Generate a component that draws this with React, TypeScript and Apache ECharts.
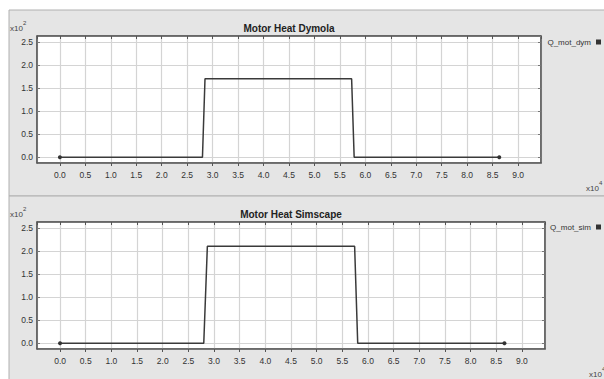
import React, { useEffect, useRef } from "react";
import * as echarts from "echarts";

// x in units of 10^4, y in units of 10^2
const dymX = [0, 2.8, 2.85, 5.73, 5.78, 8.63];
const dymY = [0, 0, 1.7, 1.7, 0, 0];
const simX = [0, 2.8, 2.87, 5.74, 5.8, 8.66];
const simY = [0, 0, 2.1, 2.1, 0, 0];
const titles = ["Motor Heat Dymola", "Motor Heat Simscape"];
const seriesNames = ["Q_mot_dym", "Q_mot_sim"];
const xRange = [-0.45, 9.45];
const yRange = [-0.125, 2.625];
const tickStep = 0.5;

const FONT = "'Liberation Sans', Arial, sans-serif";

export default function App() {
  const ref = useRef<HTMLDivElement>(null);
  useEffect(() => {
    if (!ref.current) return;
    const chart = echarts.init(ref.current, undefined, { renderer: "svg" });
    const grids = [
      { left: 37, top: 36, width: 504, height: 127 },
      { left: 37, top: 222, width: 508, height: 127 },
    ];
    const fmt = (v: number) => {
      const r = Math.round(v / tickStep) * tickStep;
      if (Math.abs(r - v) > 1e-6) return "";
      return r.toFixed(1);
    };
    const xAxes: any[] = [];
    const yAxes: any[] = [];
    grids.forEach((_, gi) => {
      const baseX = {
        type: "value",
        gridIndex: gi,
        min: xRange[0],
        max: xRange[1],
        splitNumber: 20,
        minInterval: tickStep,
        maxInterval: tickStep,
      };
      xAxes.push({
        ...baseX,
        position: "bottom",
        axisLine: { show: true, onZero: false, lineStyle: { color: "#555", width: 1.5 } },
        axisTick: { show: true, inside: false, length: 3, lineStyle: { color: "#555" } },
        axisLabel: {
          show: true,
          formatter: fmt,
          showMinLabel: false,
          showMaxLabel: false,
          color: "#333",
          fontSize: 8.5,
          fontFamily: FONT,
          margin: 7,
        },
        splitLine: { show: true, lineStyle: { color: "#d4d4d4", width: 1.2 } },
      });
      xAxes.push({
        ...baseX,
        position: "top",
        axisLine: { show: true, onZero: false, lineStyle: { color: "#555", width: 1.5 } },
        axisTick: { show: true, inside: true, length: 3, lineStyle: { color: "#555" } },
        axisLabel: { show: false },
        splitLine: { show: false },
      });
      const baseY = {
        type: "value",
        gridIndex: gi,
        min: yRange[0],
        max: yRange[1],
        splitNumber: 6,
        minInterval: tickStep,
        maxInterval: tickStep,
      };
      yAxes.push({
        ...baseY,
        position: "left",
        axisLine: { show: true, onZero: false, lineStyle: { color: "#555", width: 1.5 } },
        axisTick: { show: true, inside: true, length: 3, lineStyle: { color: "#777" } },
        axisLabel: {
          show: true,
          formatter: fmt,
          showMinLabel: false,
          showMaxLabel: false,
          color: "#333",
          fontSize: 8.5,
          fontFamily: FONT,
          margin: 4,
        },
        splitLine: { show: true, lineStyle: { color: "#d4d4d4", width: 1.2 } },
      });
      yAxes.push({
        ...baseY,
        position: "right",
        axisLine: { show: true, onZero: false, lineStyle: { color: "#555", width: 1.5 } },
        axisTick: { show: true, inside: true, length: 3, lineStyle: { color: "#777" } },
        axisLabel: { show: false },
        splitLine: { show: false },
      });
    });

    const mk = (xs: number[], ys: number[]) => xs.map((x, i) => [x, ys[i]]);
    const datasets = [mk(dymX, dymY), mk(simX, simY)];

    const series = datasets.map((d, gi) => ({
      type: "line",
      name: seriesNames[gi],
      xAxisIndex: gi * 2,
      yAxisIndex: gi * 2,
      data: d,
      symbol: "circle",
      symbolSize: (_v: any, p: any) => (p.dataIndex === 0 || p.dataIndex === d.length - 1 ? 4 : 0),
      showSymbol: true,
      itemStyle: { color: "#333" },
      lineStyle: { color: "#3a3a3a", width: 1.5 },
      emphasis: { disabled: true },
    }));

    const expText = (x: number, y: number, exp: string) => [
      {
        type: "text",
        x,
        y,
        style: { text: "x10", fontSize: 8, fill: "#444", fontFamily: FONT },
        z: 5,
      },
      {
        type: "text",
        x: x + 13,
        y: y - 4,
        style: { text: exp, fontSize: 6, fill: "#444", fontFamily: FONT },
        z: 5,
      },
    ];

    chart.setOption({
      animation: false,
      backgroundColor: "#ffffff",
      title: [
        {
          text: titles[0],
          left: 289,
          top: 23,
          padding: 0,
          textAlign: "center",
          textStyle: { fontSize: 10, fontWeight: "bold", color: "#222", fontFamily: FONT },
        },
        {
          text: titles[1],
          left: 291,
          top: 209,
          padding: 0,
          textAlign: "center",
          textStyle: { fontSize: 10, fontWeight: "bold", color: "#222", fontFamily: FONT },
        },
      ],
      legend: [
        {
          data: [seriesNames[0]],
          right: 3,
          top: 38,
          padding: 0,
          align: "right",
          icon: "rect",
          itemWidth: 5,
          itemHeight: 5,
          itemGap: 4,
          textStyle: { fontSize: 8, color: "#333", fontFamily: FONT },
        },
        {
          data: [seriesNames[1]],
          right: 3,
          top: 223,
          padding: 0,
          align: "right",
          icon: "rect",
          itemWidth: 5,
          itemHeight: 5,
          itemGap: 4,
          textStyle: { fontSize: 8, color: "#333", fontFamily: FONT },
        },
      ],
      grid: grids.map((g) => ({
        ...g,
        show: true,
        backgroundColor: "#ffffff",
        borderColor: "#555",
        borderWidth: 1,
      })),
      xAxis: xAxes,
      yAxis: yAxes,
      series,
      graphic: [
        {
          type: "rect",
          shape: { x: 9, y: 10, width: 600, height: 186 },
          style: { fill: "#e5e5e5", stroke: "#b0b0b0", lineWidth: 1 },
          z: -10,
          silent: true,
        },
        {
          type: "rect",
          shape: { x: 9, y: 196, width: 600, height: 190 },
          style: { fill: "#e5e5e5", stroke: "#b0b0b0", lineWidth: 1 },
          z: -10,
          silent: true,
        },
        ...expText(10, 24, "2"),
        ...expText(586, 184, "4"),
        ...expText(10, 210, "2"),
        ...expText(589, 370, "4"),
      ],
    });
    return () => chart.dispose();
  }, []);
  return (
    <div
      ref={ref}
      style={{ position: "fixed", left: 0, top: 0, width: 604, height: 379 }}
    />
  );
}
